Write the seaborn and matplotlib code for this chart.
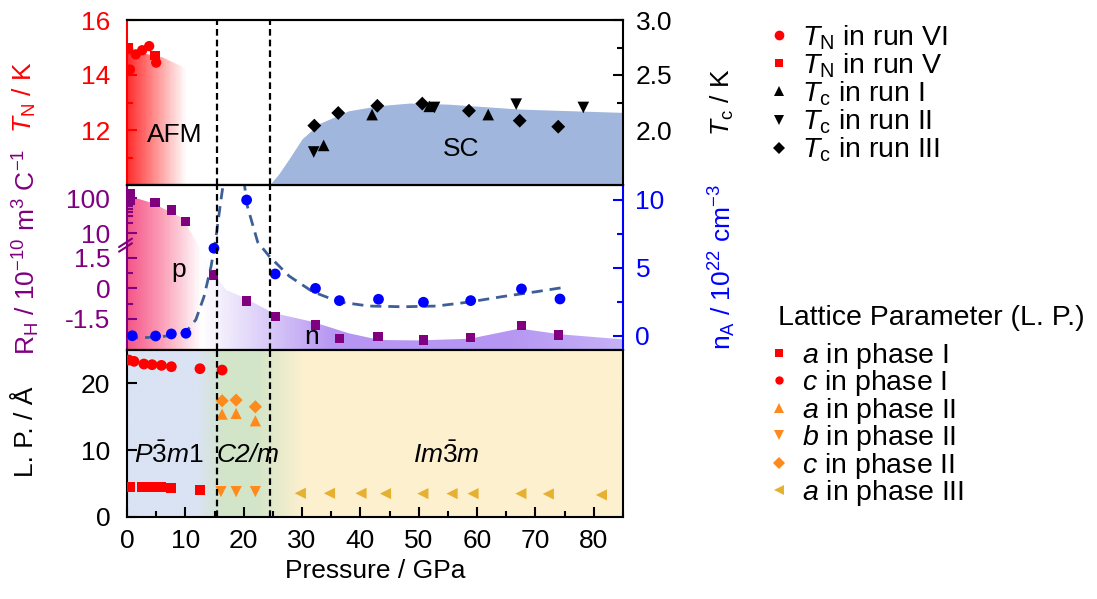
import numpy as np
import seaborn as sns
import matplotlib.pyplot as plt
from matplotlib.colors import LinearSegmentedColormap
from matplotlib.lines import Line2D

# ---- data ----
# phase boundaries (GPa)
transitions = [15.5, 24.5]

# Neel temperature (top panel, left axis)
tn_vi_p = [0.2, 0.5, 1.5, 2.6, 3.8, 5.0]
tn_vi_t = [14.95, 14.2, 14.75, 14.9, 15.05, 14.45]
tn_v_p = [0.3, 4.8]
tn_v_t = [15.0, 14.7]
afm_p = [0, 6, 10.5]
afm_t = [14.9, 14.65, 14.2]

# superconducting Tc (top panel, right axis)
tc1_p = [33.7, 42.0, 51.8, 61.9]
tc1_t = [1.86, 2.14, 2.215, 2.14]
tc2_p = [32.0, 52.7, 66.7, 78.2]
tc2_t = [1.80, 2.205, 2.235, 2.205]
tc3_p = [32.1, 36.2, 42.9, 50.6, 58.6, 67.3, 73.9]
tc3_t = [2.04, 2.155, 2.22, 2.24, 2.175, 2.085, 2.03]
sc_p = [24.4, 26, 27.8, 30, 33, 38, 43, 48.4, 55, 67.4, 85]
sc_t = [1.5, 1.6, 1.74, 1.92, 2.06, 2.175, 2.22, 2.245, 2.235, 2.19, 2.16]

# Hall coefficient (middle panel, left axis)
rh_p = [0.5, 0.6, 4.8, 7.6, 10.0, 14.8, 20.5, 25.4, 32.3, 36.4, 43.0, 50.8, 58.9, 67.6, 74.0]
rh_v = [130, 85, 75, 46, 22, 0.65, -0.62, -1.39, -1.80, -2.45, -2.37, -2.53, -2.40, -1.83, -2.29]
carrier_p = [0, 4.4, 9.5, 10.4, 12.4, 14.1, 17, 20, 25, 31.8, 38, 43.3, 50, 58.7, 67.3, 74.2, 85]
carrier_r = [120, 72, 27, 15, 3.5, 0.98, -0.08, -0.45, -1.2, -1.64, -2.2, -2.53, -2.55, -2.47, -1.97, -2.25, -2.5]

# carrier density (middle panel, right axis)
na_p = [0.9, 4.9, 7.6, 10.1, 14.9, 20.5, 25.4, 32.3, 36.4, 43.1, 50.8, 58.9, 67.6, 74.2]
na_v = [0.02, 0.0, 0.15, 0.2, 6.45, 10.0, 4.56, 3.5, 2.6, 2.7, 2.48, 2.6, 3.46, 2.72]
guide1_p = [0, 3, 6, 9, 10.1, 11.8, 13.2, 14.4, 15.2, 16.1, 16.6]
guide1_n = [-0.15, -0.12, -0.05, 0.15, 0.3, 1.2, 2.9, 5.1, 7.1, 10.0, 11.5]
guide2_p = [20.0, 20.65, 22.4, 24.4, 27.8, 31.8, 36.4, 41.5, 47.3, 53.0, 58.7, 64.4, 70.2, 75.0]
guide2_n = [11.5, 9.5, 6.9, 5.85, 4.4, 3.26, 2.5, 2.2, 2.15, 2.2, 2.5, 2.9, 3.26, 3.58]

# lattice parameters (bottom panel)
a1_p = [0.6, 2.6, 3.5, 4.3, 5.9, 7.5, 12.5]
a1_v = [4.55, 4.5, 4.5, 4.45, 4.45, 4.4, 4.05]
c1_p = [0.3, 1.2, 2.9, 4.3, 5.9, 7.6, 12.5, 16.3]
c1_v = [23.5, 23.3, 22.9, 22.8, 22.7, 22.5, 22.2, 22.0]
a2_p = [16.3, 18.7, 22.0]
a2_v = [15.4, 15.5, 14.4]
b2_p = [16.1, 18.7, 22.0]
b2_v = [3.8, 3.8, 3.8]
c2_p = [16.3, 18.7, 22.0]
c2_v = [17.4, 17.5, 16.5]
a3_p = [29.7, 34.7, 40.1, 44.3, 50.7, 55.7, 59.3, 67.5, 72.2, 81.3]
a3_v = [3.55, 3.55, 3.55, 3.5, 3.5, 3.5, 3.5, 3.5, 3.45, 3.3]

# ---- style ----
sns.set_theme(style='ticks')
plt.rcParams['font.family'] = ['Liberation Sans', 'DejaVu Sans']
plt.rcParams['mathtext.fontset'] = 'custom'
plt.rcParams['mathtext.rm'] = 'Liberation Sans'
plt.rcParams['mathtext.it'] = 'Liberation Sans:italic'
plt.rcParams['mathtext.bf'] = 'Liberation Sans:bold'
plt.rcParams['axes.linewidth'] = 1.5
plt.rcParams.update({'text.color': 'black', 'axes.labelcolor': 'black',
                     'xtick.color': 'black', 'ytick.color': 'black'})

RED = '#ff0000'
PURPLE = '#800080'
BLUE = '#0000ff'
ORANGE = '#ff8a1c'
GOLD = '#e6b030'
FS = 19
LFS = 20.5
XMAX = 85

# broken R_H axis: linear below 1.5, squeezed between 1.5 and 10, log above
L15 = np.log10(1.5)


def rh_fwd(r):
    r = np.asarray(r, float)
    mid = 1.5 + (np.log10(np.clip(r, 1.5, 10)) - L15) / (1 - L15) * 1.2
    top = 2.7 + (np.log10(np.maximum(r, 10)) - 1) * 1.716
    return np.where(r <= 1.5, r, np.where(r <= 10, mid, top))


def rh_inv(u):
    u = np.asarray(u, float)
    mid = 10 ** (L15 + (np.clip(u, 1.5, 2.7) - 1.5) / 1.2 * (1 - L15))
    top = 10 ** (1 + (np.clip(u, 2.7, 6) - 2.7) / 1.716)
    return np.where(u <= 1.5, u, np.where(u <= 2.7, mid, top))


def gradient_fill(ax, x, y1, y2, stops, colors, ylim, zorder=0):
    poly = ax.fill_between(x, y1, y2, facecolor='none', edgecolor='none')
    cmap = LinearSegmentedColormap.from_list('grad', list(zip(np.array(stops) / XMAX, colors)))
    grad = np.linspace(0, 1, 600)[None, :]
    im = ax.imshow(grad, cmap=cmap, aspect='auto', origin='lower',
                   extent=[0, XMAX, ylim[0], ylim[1]], zorder=zorder, interpolation='bilinear')
    im.set_clip_path(poly.get_paths()[0], transform=ax.transData)


def style_side(ax, side, color):
    ax.spines[side].set_color(color)
    ax.tick_params(axis='y', which='both', colors=color, labelcolor=color)


fig = plt.figure(figsize=(10.97, 5.99), dpi=100)
L, W = 127 / 1097, 496 / 1097
ax_top = fig.add_axes([L, 1 - 185 / 599, W, 165 / 599])
ax_mid = fig.add_axes([L, 1 - 350 / 599, W, 165 / 599])
ax_bot = fig.add_axes([L, 1 - 517 / 599, W, 167 / 599])
ax_tc = ax_top.twinx()
ax_n = ax_mid.twinx()

# ---- top panel: T_N and T_c ----
gradient_fill(ax_top, afm_p, 9, afm_t, [0, 10, 85], ['#ff3030', '#ffffff', '#ffffff'], (9, 17))
sns.scatterplot(x=tn_vi_p, y=tn_vi_t, ax=ax_top, marker='o', s=55, color=RED, edgecolor='none', legend=False, zorder=3)
sns.scatterplot(x=tn_v_p, y=tn_v_t, ax=ax_top, marker='s', s=45, color=RED, edgecolor='none', legend=False, zorder=3)
ax_top.text(8.2, 11.8, 'AFM', ha='center', va='center', fontsize=FS)
ax_top.set_ylim(10, 16)
ax_top.set_yticks([12, 14, 16])
ax_top.set_yticks([11, 13, 15], minor=True)

ax_tc.fill_between(sc_p, 1.0, sc_t, color='#a0b6dc', lw=0, zorder=1)
sns.scatterplot(x=tc1_p, y=tc1_t, ax=ax_tc, marker='^', s=70, color='black', edgecolor='none', legend=False, zorder=3)
sns.scatterplot(x=tc2_p, y=tc2_t, ax=ax_tc, marker='v', s=70, color='black', edgecolor='none', legend=False, zorder=3)
sns.scatterplot(x=tc3_p, y=tc3_t, ax=ax_tc, marker='D', s=50, color='black', edgecolor='none', legend=False, zorder=3)
ax_tc.text(57.3, 1.83, 'SC', ha='center', va='center', fontsize=FS)
ax_tc.set_ylim(1.5, 3.0)
ax_tc.set_yticks([2.0, 2.5, 3.0])
ax_tc.set_yticks([1.75, 2.25, 2.75], minor=True)
ax_tc.set_yticklabels(['2.0', '2.5', '3.0'])

# ---- middle panel: R_H and n_A ----
ax_mid.set_yscale('function', functions=(rh_fwd, rh_inv))
rh_lim = (-3.02, float(rh_inv(5.06)))
gradient_fill(ax_mid, carrier_p, -3.5, carrier_r,
              [0, 6, 12.5, 18, 25, 35, 65, 85],
              ['#f5588a', '#fba3ba', '#ffffff', '#ece5fb', '#d6c6f8', '#b797f2', '#b596f2', '#c6b1f7'],
              (-3.5, 300))
sns.scatterplot(x=rh_p, y=rh_v, ax=ax_mid, marker='s', s=45, color=PURPLE, edgecolor='none', legend=False, zorder=3)
ax_mid.text(8.9, 0.9, 'p', ha='center', va='center', fontsize=FS)
ax_mid.text(31.6, -2.38, 'n', ha='center', va='center', fontsize=FS)
ax_mid.set_ylim(*rh_lim)
ax_mid.set_yticks([-1.5, 0, 1.5, 10, 100])
ax_mid.set_yticklabels(['-1.5', '0', '1.5', '10', '100'])
ax_mid.set_yticks([-0.75, 0.75, 20, 30, 40, 50, 60, 70, 80, 90], minor=True)
ax_mid.yaxis.set_minor_formatter(plt.NullFormatter())
for dy in (0.0, 0.028):
    ax_mid.plot([-0.016, 0.01], [0.596 + dy, 0.647 + dy], transform=ax_mid.transAxes,
                color=PURPLE, lw=1.5, clip_on=False, zorder=6)

guide_style = dict(color='#3d5f96', lw=2, linestyle=(0, (4, 2.5)), sort=False, estimator=None, legend=False)
sns.lineplot(x=guide1_p, y=guide1_n, ax=ax_n, zorder=2, **guide_style)
sns.lineplot(x=guide2_p, y=guide2_n, ax=ax_n, zorder=2, **guide_style)
sns.scatterplot(x=na_p, y=na_v, ax=ax_n, marker='o', s=60, color=BLUE, edgecolor='none', legend=False, zorder=3)
ax_n.set_ylim(-1.03, 11.1)
ax_n.set_yticks([0, 5, 10])
ax_n.set_yticks([2.5, 7.5], minor=True)

# ---- bottom panel: lattice parameters ----
gradient_fill(ax_bot, [0, XMAX], -1, 26, [0, 12, 16.5, 22, 30, 85],
              ['#dae3f3', '#dae3f3', '#d2e5c8', '#d2e5c8', '#fcf0cf', '#fdf1d0'], (-1, 26))
sns.scatterplot(x=a1_p, y=a1_v, ax=ax_bot, marker='s', s=50, color=RED, edgecolor='none', legend=False, zorder=3)
sns.scatterplot(x=c1_p, y=c1_v, ax=ax_bot, marker='o', s=60, color=RED, edgecolor='none', legend=False, zorder=3)
sns.scatterplot(x=a2_p, y=a2_v, ax=ax_bot, marker='^', s=65, color=ORANGE, edgecolor='none', legend=False, zorder=3)
sns.scatterplot(x=b2_p, y=b2_v, ax=ax_bot, marker='v', s=65, color=ORANGE, edgecolor='none', legend=False, zorder=3)
sns.scatterplot(x=c2_p, y=c2_v, ax=ax_bot, marker='D', s=45, color=ORANGE, edgecolor='none', legend=False, zorder=3)
sns.scatterplot(x=a3_p, y=a3_v, ax=ax_bot, marker='<', s=65, color=GOLD, edgecolor='none', legend=False, zorder=3)
ax_bot.text(7.2, 9.3, r'$\mathit{P}\bar{\mathit{3}}\mathit{m1}$', ha='center', va='center', fontsize=FS)
ax_bot.text(20.8, 9.3, 'C2/m', ha='center', va='center', fontsize=FS, fontstyle='italic')
ax_bot.text(54.8, 9.3, r'$\mathit{Im}\bar{\mathit{3}}\mathit{m}$', ha='center', va='center', fontsize=FS)
ax_bot.set_ylim(0, 25)
ax_bot.set_yticks([0, 10, 20])
ax_bot.set_xticks(range(0, 81, 10))
ax_bot.set_xticks(range(5, 86, 10), minor=True)
ax_bot.set_xlabel('Pressure / GPa', fontsize=FS)

# ---- phase boundaries ----
for ax in (ax_tc, ax_n, ax_bot):
    for p in transitions:
        ax.axvline(p, color='black', lw=1.6, linestyle=(0, (3, 1.8)), zorder=5)

# ---- axes cosmetics ----
for ax in (ax_top, ax_mid, ax_bot, ax_tc, ax_n):
    ax.set_xlim(0, XMAX)
    ax.tick_params(which='both', direction='in', width=1.5, labelsize=FS, colors='black', labelcolor='black')
    ax.tick_params(which='major', length=7)
    ax.tick_params(which='minor', length=4)
    for sp in ax.spines.values():
        sp.set_color('black')
        sp.set_linewidth(1.5)
for ax in (ax_top, ax_mid, ax_tc, ax_n):
    ax.tick_params(axis='x', which='both', bottom=False, top=False, labelbottom=False)
ax_bot.tick_params(axis='x', pad=9)
for ax in (ax_top, ax_mid, ax_bot):
    ax.tick_params(axis='y', which='both', pad=12)
    ax.spines['right'].set_visible(False)
for ax in (ax_tc, ax_n):
    ax.tick_params(axis='y', which='both', pad=9)
    ax.spines['left'].set_visible(False)
ax_bot.spines['right'].set_visible(True)
ax_bot.spines['top'].set_zorder(6)
style_side(ax_top, 'left', RED)
style_side(ax_mid, 'left', PURPLE)
style_side(ax_n, 'right', BLUE)

ax_top.set_ylabel(r'$T_\mathrm{N}$ / K', color=RED, fontsize=FS)
ax_top.yaxis.set_label_coords(-0.18, 0.53)
ax_bot.set_ylabel('L. P. / Å', fontsize=FS, color='black')
ax_bot.yaxis.set_label_coords(-0.18, 0.51)
fig.text(26 / 1097, 1 - 252 / 599, r'R$_\mathrm{H}$ / 10$^{-10}$ m$^3$ C$^{-1}$', rotation=90,
         color=PURPLE, fontsize=FS, ha='center', va='center')
ax_tc.set_ylabel(r'$T_\mathrm{c}$ / K', fontsize=FS, color='black')
ax_tc.yaxis.set_label_coords(1.172, 0.5)
ax_n.set_ylabel(r'n$_\mathrm{A}$ / 10$^{22}$ cm$^{-3}$', color=BLUE, fontsize=FS)
ax_n.yaxis.set_label_coords(1.168, 0.5)

# ---- legends ----
def mk(marker, color, size):
    return Line2D([], [], marker=marker, color=color, linestyle='none', markersize=size, markeredgewidth=0)


h1 = [mk('o', RED, 7), mk('s', RED, 6), mk('^', 'black', 7), mk('v', 'black', 7), mk('D', 'black', 6)]
l1 = [r'$T_\mathrm{N}$ in run VI', r'$T_\mathrm{N}$ in run V', r'$T_\mathrm{c}$ in run I',
      r'$T_\mathrm{c}$ in run II', r'$T_\mathrm{c}$ in run III']
fig.legend(h1, l1, loc='upper left', bbox_to_anchor=(768 / 1097, 1 - 23 / 599), frameon=False,
           fontsize=LFS, handlelength=0.8, handletextpad=0.4, labelspacing=-0.01, borderpad=0, borderaxespad=0,
           labelcolor='black')

fig.text(778 / 1097, 1 - 318 / 599, 'Lattice Parameter (L. P.)', fontsize=LFS, ha='left', va='center',
         color='black')
h2 = [mk('s', RED, 6), mk('o', RED, 6), mk('^', ORANGE, 7), mk('v', ORANGE, 7), mk('D', ORANGE, 6), mk('<', GOLD, 7)]
l2 = [r'$a$ in phase I', r'$c$ in phase I', r'$a$ in phase II', r'$b$ in phase II',
      r'$c$ in phase II', r'$a$ in phase III']
fig.legend(h2, l2, loc='upper left', bbox_to_anchor=(768 / 1097, 1 - 341 / 599), frameon=False,
           fontsize=LFS, handlelength=0.8, handletextpad=0.4, labelspacing=-0.09, borderpad=0, borderaxespad=0,
           labelcolor='black')

fig.savefig('out.png', dpi=100)
